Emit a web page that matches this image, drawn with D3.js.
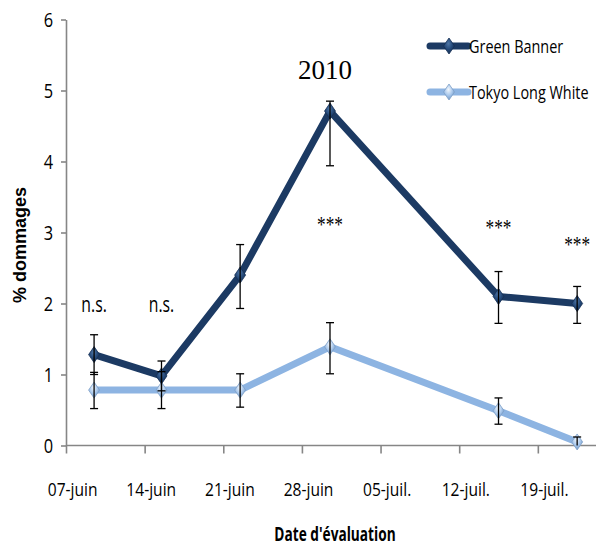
<!DOCTYPE html>
<html>
<head>
<meta charset="utf-8">
<script src="https://cdn.jsdelivr.net/npm/d3@7"></script>
<style>
  body { margin: 0; background: #fff; }
  svg { display: block; }
</style>
</head>
<body>
<div id="chart"></div>
<script>
// data
var dates = ["2010-06-09", "2010-06-15", "2010-06-22", "2010-06-30", "2010-07-15", "2010-07-22"];
var greenBanner = [1.28, 0.98, 2.40, 4.71, 2.10, 2.00];
var greenBannerErrPlus = [0.28, 0.21, 0.43, 0.14, 0.35, 0.24];
var greenBannerErrMinus = [0.28, 0.21, 0.47, 0.77, 0.38, 0.28];
var tokyoLongWhite = [0.78, 0.78, 0.78, 1.39, 0.49, 0.05];
var tokyoErrPlus = [0.25, 0.26, 0.23, 0.34, 0.18, 0.07];
var tokyoErrMinus = [0.26, 0.26, 0.24, 0.38, 0.19, 0.05];
var signif = ["n.s.", "n.s.", "", "***", "***", "***"];
var signifY = [1.88, 1.88, null, 3.01, 2.96, 2.72];
var seriesNames = ["Green Banner", "Tokyo Long White"];
var yTicks = [0, 1, 2, 3, 4, 5, 6];
var xStart = "2010-06-07", xEnd = "2010-07-24";
var yearLabel = "2010";

var width = 597, height = 548;
var sans = "'Open Sans', 'Liberation Sans', Arial, sans-serif";
var serif = "'Liberation Serif', 'Times New Roman', serif";
var parse = d3.timeParse("%Y-%m-%d");

var fr = d3.timeFormatLocale({
  dateTime: "%A %e %B %Y à %X", date: "%d/%m/%Y", time: "%H:%M:%S",
  periods: ["AM", "PM"],
  days: ["dimanche", "lundi", "mardi", "mercredi", "jeudi", "vendredi", "samedi"],
  shortDays: ["dim.", "lun.", "mar.", "mer.", "jeu.", "ven.", "sam."],
  months: ["janvier", "février", "mars", "avril", "mai", "juin", "juillet", "août", "septembre", "octobre", "novembre", "décembre"],
  shortMonths: ["janv.", "févr.", "mars", "avr.", "mai", "juin", "juil.", "août", "sept.", "oct.", "nov.", "déc."]
});

// the original chart was squeezed sideways, so its text is narrow
function squeeze(sel, sx) {
  sel.each(function() {
    var t = d3.select(this);
    var x = +t.attr("x") || 0, y = +t.attr("y") || 0;
    t.attr("x", null).attr("y", null)
      .attr("transform", "translate(" + x + "," + y + ") scale(" + sx + ",1)");
  });
}

var svg = d3.select("#chart").append("svg")
    .attr("width", width)
    .attr("height", height);

var defs = svg.append("defs");
function diamondGrad(id, hi, mid, lo) {
  var g = defs.append("radialGradient").attr("id", id)
      .attr("cx", "45%").attr("cy", "35%").attr("r", "65%");
  g.append("stop").attr("offset", "0%").attr("stop-color", hi);
  g.append("stop").attr("offset", "55%").attr("stop-color", mid);
  g.append("stop").attr("offset", "100%").attr("stop-color", lo);
}
diamondGrad("gbGrad", "#4f76a6", "#254a7a", "#142e52");
diamondGrad("tlwGrad", "#f2f7fd", "#a9c8ec", "#6f97c6");

var colors = ["#1c3a63", "#8db4e2"];
var grads = ["url(#gbGrad)", "url(#tlwGrad)"];

var xScale = d3.scaleTime()
    .domain([parse(xStart), parse(xEnd)])
    .range([66, 594]);

var yScale = d3.scaleLinear()
    .domain([0, 6])
    .range([445.5, 19.5]);

var halfDay = 12 * 3600 * 1000;
function xPos(d) { return xScale(new Date(parse(d).getTime() + halfDay)); }
var dayWidth = xScale(parse("2010-06-08")) - xScale(parse(xStart));

// axes
var xAxis = d3.axisBottom(xScale)
    .tickValues(d3.timeDay.range(parse(xStart), parse(xEnd), 7))
    .tickSize(8)
    .tickSizeOuter(0)
    .tickFormat(fr.format("%d-%b"));

var yAxis = d3.axisLeft(yScale)
    .tickValues(yTicks)
    .tickSize(5)
    .tickSizeOuter(0)
    .tickFormat(d3.format("d"));

svg.append("g")
    .attr("class", "x axis")
    .attr("transform", "translate(0," + yScale(0) + ")")
    .call(xAxis);

svg.select(".x.axis path").attr("d", "M" + xScale.range()[0] + ",0H596");

svg.select(".x.axis")
  .selectAll("text")
    .attr("x", dayWidth / 2 + 0.5)
    .attr("y", 50)
    .attr("dy", null)
    .style("font-family", sans)
    .style("font-size", "19px")
    .style("fill", "#000")
    .call(squeeze, 0.82);

svg.append("g")
    .attr("class", "y axis")
    .attr("transform", "translate(" + xScale.range()[0] + ",0)")
    .call(yAxis);

svg.select(".y.axis")
  .selectAll("text")
    .attr("x", -13)
    .attr("dy", "0.36em")
    .style("font-family", sans)
    .style("font-size", "20px")
    .style("fill", "#000")
    .call(squeeze, 0.82);

svg.selectAll(".axis path, .axis line")
    .style("stroke", "#868686")
    .style("stroke-width", 1.6);

// axis titles
svg.append("text")
    .attr("transform", "translate(26,245) rotate(-90)")
    .attr("text-anchor", "middle")
    .style("font-family", "'Liberation Sans', Arial, sans-serif")
    .style("font-weight", "bold")
    .style("font-size", "18px")
    .text("% dommages");

svg.append("text")
    .attr("x", 335)
    .attr("y", 541)
    .attr("text-anchor", "middle")
    .style("font-family", sans)
    .style("font-weight", "bold")
    .style("font-size", "19px")
    .text("Date d'évaluation")
    .call(squeeze, 0.72);

svg.append("text")
    .attr("x", 325)
    .attr("y", 79)
    .attr("text-anchor", "middle")
    .style("font-family", serif)
    .style("font-size", "27px")
    .text(yearLabel);

// significance labels
var sig = dates.map(function(d, i) { return {date: d, label: signif[i], y: signifY[i]}; })
    .filter(function(d) { return d.label !== ""; });

svg.selectAll(".signif")
    .data(sig)
  .enter()
    .append("text")
    .attr("class", "signif")
    .attr("x", function(d) { return xPos(d.date); })
    .attr("y", function(d) { return yScale(d.y); })
    .attr("text-anchor", "middle")
    .style("font-family", function(d) { return d.label === "***" ? serif : sans; })
    .style("font-size", function(d) { return d.label === "***" ? "23px" : "21px"; })
    .text(function(d) { return d.label; })
    .call(squeeze, 0.75);

// series
var series = [
  {name: seriesNames[0], values: greenBanner, plus: greenBannerErrPlus, minus: greenBannerErrMinus},
  {name: seriesNames[1], values: tokyoLongWhite, plus: tokyoErrPlus, minus: tokyoErrMinus}
];

var line = d3.line()
    .x(function(d) { return xPos(d.date); })
    .y(function(d) { return yScale(d.v); });

var diamond = "M0,-8L5.5,0L0,8L-5.5,0Z";

series.forEach(function(s, k) {
  var pts = dates.map(function(d, i) {
    return {date: d, v: s.values[i], hi: s.values[i] + s.plus[i], lo: Math.max(0, s.values[i] - s.minus[i])};
  });
  s.pts = pts;

  svg.append("path")
      .datum(pts)
      .attr("d", line)
      .style("fill", "none")
      .style("stroke", colors[k])
      .style("stroke-width", 7)
      .style("stroke-linejoin", "round");

  svg.selectAll(".marker" + k)
      .data(pts)
    .enter()
      .append("path")
      .attr("class", "marker" + k)
      .attr("transform", function(d) { return "translate(" + xPos(d.date) + "," + yScale(d.v) + ")"; })
      .attr("d", diamond)
      .style("fill", grads[k])
      .style("stroke", k === 0 ? "#163055" : "#7f9fc6")
      .style("stroke-width", 0.8);
});

// error bars on top
series.forEach(function(s, k) {
  var g = svg.append("g").attr("class", "errors" + k);
  g.selectAll("line.stem")
      .data(s.pts)
    .enter()
      .append("line")
      .attr("x1", function(d) { return xPos(d.date); })
      .attr("x2", function(d) { return xPos(d.date); })
      .attr("y1", function(d) { return yScale(d.hi); })
      .attr("y2", function(d) { return yScale(d.lo); })
      .style("stroke", "#000")
      .style("stroke-width", 1.3);
  ["hi", "lo"].forEach(function(key) {
    g.selectAll("line.cap" + key)
        .data(s.pts.filter(function(d) { return d[key] > 0; }))
      .enter()
        .append("line")
        .attr("x1", function(d) { return xPos(d.date) - 4; })
        .attr("x2", function(d) { return xPos(d.date) + 4; })
        .attr("y1", function(d) { return yScale(d[key]); })
        .attr("y2", function(d) { return yScale(d[key]); })
        .style("stroke", "#000")
        .style("stroke-width", 1.3);
  });
});

// legend
var legend = svg.selectAll(".legend")
    .data(series)
  .enter()
    .append("g")
    .attr("class", "legend")
    .attr("transform", function(d, i) { return "translate(430," + (46 + i * 46) + ")"; });

legend.append("line")
    .attr("x1", 0)
    .attr("x2", 38)
    .style("stroke", function(d, i) { return colors[i]; })
    .style("stroke-width", 7)
    .style("stroke-linecap", "round");

legend.append("path")
    .attr("transform", "translate(19,0)")
    .attr("d", diamond)
    .style("fill", function(d, i) { return grads[i]; })
    .style("stroke", function(d, i) { return i === 0 ? "#163055" : "#7f9fc6"; })
    .style("stroke-width", 0.8);

legend.append("text")
    .attr("x", 39)
    .attr("y", 0)
    .attr("dy", "0.36em")
    .style("font-family", sans)
    .style("font-size", "19px")
    .text(function(d) { return d.name; })
    .call(squeeze, 0.76);
</script>
</body>
</html>
